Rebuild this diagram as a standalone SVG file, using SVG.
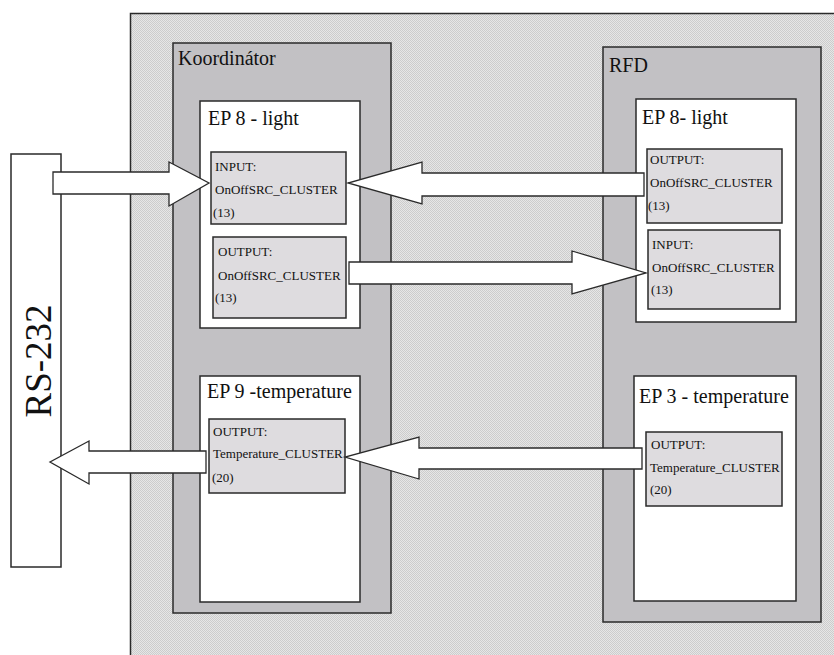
<svg xmlns="http://www.w3.org/2000/svg" width="834" height="655" viewBox="0 0 834 655">
  <defs>
    <!-- fine dither used for the network area -->
    <pattern id="dither" width="2" height="2" patternUnits="userSpaceOnUse">
      <rect width="2" height="2" fill="#e6e6e6"/>
      <rect width="1" height="1" fill="#cccccc"/>
      <rect x="1" y="1" width="1" height="1" fill="#cccccc"/>
    </pattern>
  </defs>
  <style>
    .device { fill: #c2c1c4; stroke: #2a2a2a; stroke-width: 1.5; }
    .endpoint { fill: #ffffff; stroke: #2a2a2a; stroke-width: 1.5; }
    .cluster { fill: #dedcdf; stroke: #2a2a2a; stroke-width: 1.5; }
    .port { fill: #ffffff; stroke: #2a2a2a; stroke-width: 1.5; }
    .arrow { fill: #ffffff; stroke: #2a2a2a; stroke-width: 1.3; stroke-linejoin: miter; }
    .title { font-family: "Liberation Serif", "Times New Roman", serif; font-size: 20px; fill: #111; }
    .small { font-family: "Liberation Serif", "Times New Roman", serif; font-size: 13px; fill: #111; }
    .rs { font-family: "Liberation Serif", "Times New Roman", serif; font-size: 37px; fill: #111; }
  </style>

  <rect width="834" height="655" fill="#ffffff"/>

  <!-- network area -->
  <g id="network">
    <rect x="130.5" y="13.5" width="710" height="650" fill="url(#dither)" stroke="#2a2a2a" stroke-width="1.5"/>
  </g>

  <!-- serial port -->
  <g id="rs232">
    <rect class="port" x="11" y="154" width="50" height="413"/>
    <text class="rs" transform="translate(51,361) rotate(-90)" text-anchor="middle">RS-232</text>
  </g>

  <!-- coordinator device -->
  <g id="koordinator">
    <rect class="device" x="173" y="43" width="218" height="570"/>
    <text class="title" x="178" y="65">Koordinátor</text>
  </g>
  <g id="koord-ep8">
    <rect class="endpoint" x="200" y="101" width="160" height="227"/>
    <text class="title" x="208" y="125" xml:space="preserve">EP 8 - light</text>
  </g>
  <g id="koord-ep8-input">
    <rect class="cluster" x="211" y="152" width="135" height="72"/>
    <text class="small" x="215" y="171">INPUT:</text>
    <text class="small" x="215" y="194">OnOffSRC_CLUSTER</text>
    <text class="small" x="213" y="217">(13)</text>
  </g>
  <g id="koord-ep8-output">
    <rect class="cluster" x="213" y="237" width="133" height="81"/>
    <text class="small" x="218" y="256">OUTPUT:</text>
    <text class="small" x="218" y="280">OnOffSRC_CLUSTER</text>
    <text class="small" x="215" y="302">(13)</text>
  </g>
  <g id="koord-ep9">
    <rect class="endpoint" x="200" y="376" width="160" height="226"/>
    <text class="title" x="207" y="398" xml:space="preserve">EP 9 -temperature</text>
  </g>
  <g id="koord-ep9-output">
    <rect class="cluster" x="209" y="419" width="136" height="74"/>
    <text class="small" x="213" y="436">OUTPUT:</text>
    <text class="small" x="213" y="458">Temperature_CLUSTER</text>
    <text class="small" x="212" y="482">(20)</text>
  </g>

  <!-- end device -->
  <g id="rfd">
    <rect class="device" x="603" y="47" width="218" height="575"/>
    <text class="title" x="609" y="72">RFD</text>
  </g>
  <g id="rfd-ep8">
    <rect class="endpoint" x="636" y="99" width="160" height="223"/>
    <text class="title" x="642" y="124">EP 8- light</text>
  </g>
  <g id="rfd-ep8-output">
    <rect class="cluster" x="647" y="149" width="135" height="74"/>
    <text class="small" x="650" y="164">OUTPUT:</text>
    <text class="small" x="650" y="187">OnOffSRC_CLUSTER</text>
    <text class="small" x="648" y="210">(13)</text>
  </g>
  <g id="rfd-ep8-input">
    <rect class="cluster" x="648" y="230" width="132" height="79"/>
    <text class="small" x="652" y="249">INPUT:</text>
    <text class="small" x="652" y="272">OnOffSRC_CLUSTER</text>
    <text class="small" x="651" y="294">(13)</text>
  </g>
  <g id="rfd-ep3">
    <rect class="endpoint" x="634" y="376" width="162" height="225"/>
    <text class="title" x="639" y="403">EP 3 - temperature</text>
  </g>
  <g id="rfd-ep3-output">
    <rect class="cluster" x="646" y="432" width="136" height="74"/>
    <text class="small" x="651" y="449">OUTPUT:</text>
    <text class="small" x="650" y="472">Temperature_CLUSTER</text>
    <text class="small" x="650" y="494">(20)</text>
  </g>

  <!-- block arrows between clusters -->
  <g id="connectors">
    <polygon class="arrow" points="53,172 169,172 169,162 209,183 169,206 169,194 53,194"/>
    <polygon class="arrow" points="644,173 422,173 422,162 348,183 422,204 422,196 644,196"/>
    <polygon class="arrow" points="349,262 572,262 572,251 646,273 572,294 572,284 349,284"/>
    <polygon class="arrow" points="642,448 419,448 419,437 345,457 419,479 419,469 642,469"/>
    <polygon class="arrow" points="206,451 89,451 89,441 50,462 89,484 89,473 206,473"/>
  </g>
</svg>
